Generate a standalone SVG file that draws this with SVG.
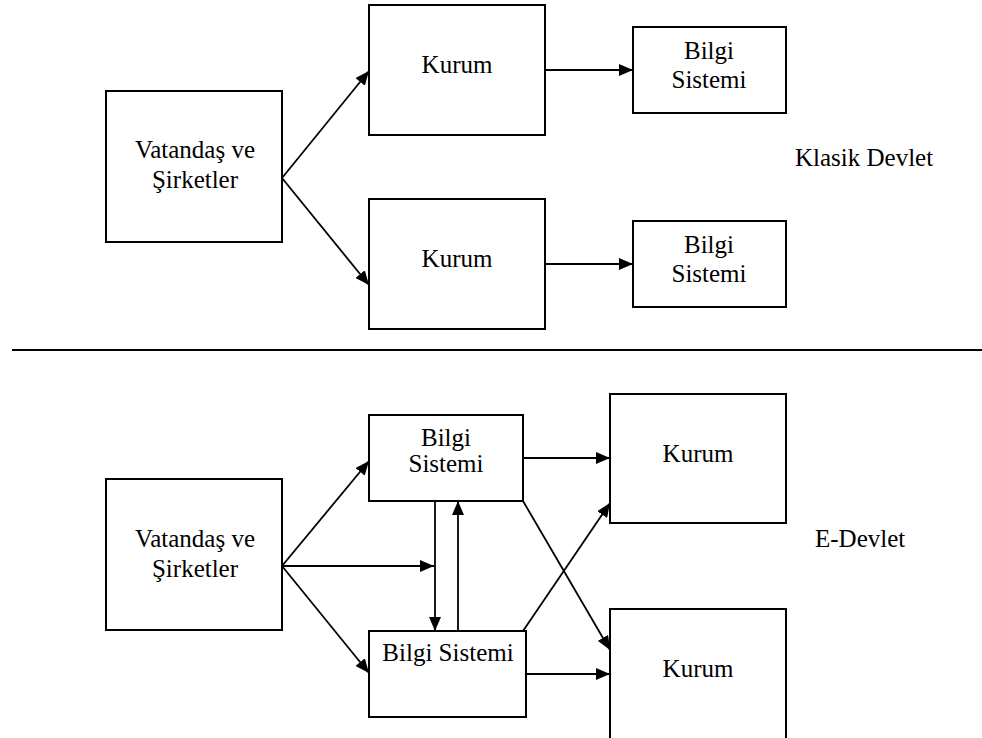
<svg xmlns="http://www.w3.org/2000/svg" width="982" height="738" viewBox="0 0 982 738">
<style>
.box{fill:#fff;stroke:#000;stroke-width:2}
.t{font-family:'Liberation Serif','Times New Roman','DejaVu Serif',serif;font-size:25px;fill:#000;text-anchor:middle}
.l{font-family:'Liberation Serif','Times New Roman','DejaVu Serif',serif;font-size:25px;fill:#000}
.c{stroke:#000;stroke-width:1.8;fill:none}
</style>
<defs>
<marker id="ah" markerUnits="userSpaceOnUse" markerWidth="15" markerHeight="12" refX="14" refY="6" orient="auto">
<path d="M0,0 L14,6 L0,12 Z" fill="#000"/>
</marker>
</defs>
<rect width="982" height="738" fill="#fff"/>
<g id="connectors">
<line class="c" x1="282" y1="178" x2="369" y2="71" marker-end="url(#ah)"/>
<line class="c" x1="282" y1="178" x2="369" y2="285" marker-end="url(#ah)"/>
<line class="c" x1="545" y1="70" x2="633" y2="70" marker-end="url(#ah)"/>
<line class="c" x1="545" y1="264" x2="633" y2="264" marker-end="url(#ah)"/>
<line class="c" x1="282" y1="566" x2="369" y2="461" marker-end="url(#ah)"/>
<line class="c" x1="282" y1="566" x2="434" y2="566" marker-end="url(#ah)"/>
<line class="c" x1="282" y1="566" x2="369" y2="673" marker-end="url(#ah)"/>
<line class="c" x1="435" y1="501" x2="435" y2="631" marker-end="url(#ah)"/>
<line class="c" x1="458" y1="631" x2="458" y2="501" marker-end="url(#ah)"/>
<line class="c" x1="523" y1="458" x2="610" y2="458" marker-end="url(#ah)"/>
<line class="c" x1="523" y1="501" x2="610" y2="650" marker-end="url(#ah)"/>
<line class="c" x1="523" y1="631" x2="610" y2="503" marker-end="url(#ah)"/>
<line class="c" x1="522" y1="674" x2="610" y2="674" marker-end="url(#ah)"/>
<line x1="12" y1="350" x2="982" y2="350" stroke="#000" stroke-width="2"/>
</g>
<g id="vatandas1"><rect class="box" x="106" y="91" width="176" height="151"/><text class="t" x="195" y="158">Vatandaş ve</text><text class="t" x="195" y="188">Şirketler</text></g>
<g id="kurum1"><rect class="box" x="369" y="5" width="176" height="130"/><text class="t" x="457" y="73">Kurum</text></g>
<g id="kurum2"><rect class="box" x="369" y="199" width="176" height="130"/><text class="t" x="457" y="267">Kurum</text></g>
<g id="bilgi1"><rect class="box" x="633" y="27" width="153" height="86"/><text class="t" x="709" y="59">Bilgi</text><text class="t" x="709" y="88">Sistemi</text></g>
<g id="bilgi2"><rect class="box" x="633" y="221" width="153" height="86"/><text class="t" x="709" y="253">Bilgi</text><text class="t" x="709" y="282">Sistemi</text></g>
<g id="klasik"><text class="l" x="795" y="166">Klasik Devlet</text></g>
<g id="vatandas2"><rect class="box" x="106" y="479" width="176" height="151"/><text class="t" x="195" y="547">Vatandaş ve</text><text class="t" x="195" y="577">Şirketler</text></g>
<g id="bilgi3"><rect class="box" x="369" y="415" width="154" height="86"/><text class="t" x="446" y="446">Bilgi</text><text class="t" x="446" y="472">Sistemi</text></g>
<g id="bilgi4"><rect class="box" x="369" y="631" width="157" height="86"/><text class="t" x="448" y="661">Bilgi Sistemi</text></g>
<g id="kurum3"><rect class="box" x="610" y="394" width="176" height="129"/><text class="t" x="698" y="462">Kurum</text></g>
<g id="kurum4"><rect class="box" x="610" y="609" width="176" height="130"/><text class="t" x="698" y="677">Kurum</text></g>
<g id="edevlet"><text class="l" x="815" y="547">E-Devlet</text></g>
</svg>
